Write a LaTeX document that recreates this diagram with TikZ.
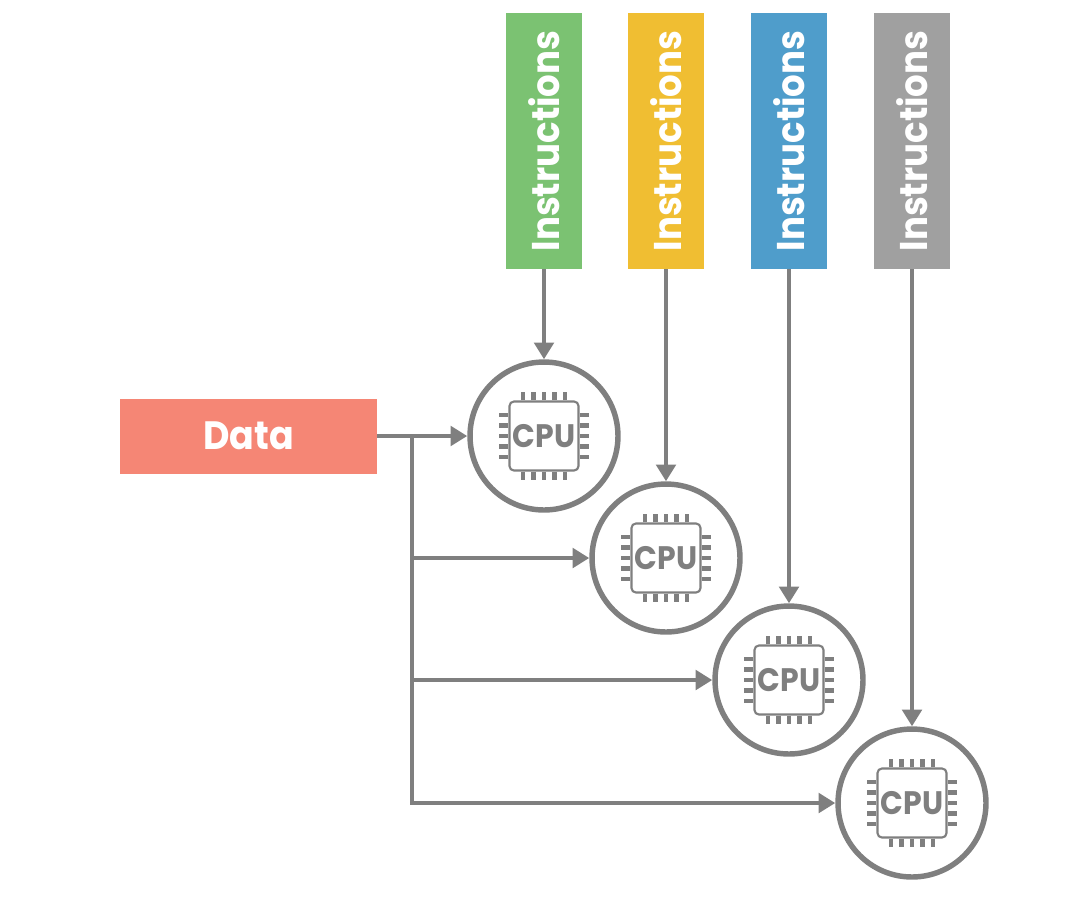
\documentclass[tikz,border=0pt]{standalone}
\usepackage{fontspec}
\setmainfont{Poppins}[FakeStretch=0.92]
\usetikzlibrary{arrows.meta,positioning,calc}

\definecolor{linegray}{HTML}{7F7F7F}
\definecolor{instrgreen}{HTML}{7BC272}
\definecolor{instryellow}{HTML}{F0BE32}
\definecolor{instrblue}{HTML}{4F9DCB}
\definecolor{instrgray}{HTML}{A0A0A0}
\definecolor{datared}{HTML}{F58675}

\tikzset{
    instrbox/.style={rotate=90, minimum width=5.12cm, minimum height=1.52cm, inner sep=0pt,
        text=white, font=\fontsize{22}{22}\selectfont\bfseries},
    databox/.style={fill=datared, minimum width=5.14cm, minimum height=1.5cm, inner sep=0pt,
        text=white, font=\fontsize{22.5}{22.5}\selectfont\bfseries},
    cpucircle/.style={draw=linegray, line width=3.1pt, fill=white, circle, minimum size=2.96cm, inner sep=0pt},
    chipbox/.style={draw=linegray, line width=1.2pt, rounded corners=2.5pt, minimum size=1.38cm, inner sep=0pt,
        text=linegray, font=\fontsize{18.5}{18.5}\selectfont\bfseries},
    pin/.style={linegray, line width=2.5pt},
    link/.style={linegray, line width=2.4pt, -{Triangle[length=9.5pt,width=11pt]}}
}

\begin{document}
\begin{tikzpicture}[x=0.02cm, y=-0.02cm]
    \useasboundingbox (0, 0) rectangle (1088, 897);

    % Data source
    \node[databox] (data) at (248.5, 436) {Data};

    % Processors with their pins
    \foreach \n/\cx/\cy in {1/544/436, 2/666/558, 3/789/680, 4/912/803} {
        \node[cpucircle] (cpu\n) at (\cx, \cy) {};
        \node[chipbox] (chip\n) at (\cx, \cy) {CPU};
        \foreach \d in {-21, -10.5, 0, 10.5, 21} {
            \draw[pin] ($(chip\n.north)+(\d, 0)$) -- ++(0, -8);
            \draw[pin] ($(chip\n.south)+(\d, 0)$) -- ++(0, 8);
            \draw[pin] ($(chip\n.west)+(0, \d)$) -- ++(-9, 0);
            \draw[pin] ($(chip\n.east)+(0, \d)$) -- ++(9, 0);
        }
    }

    % Instruction streams
    \foreach \n/\cx/\col in {1/544/instrgreen, 2/666/instryellow, 3/789/instrblue, 4/912/instrgray} {
        \node[instrbox, fill=\col] (instr\n) at (\cx, 141) {Instructions};
        \draw[link] (instr\n) -- (cpu\n);
    }

    % Data lines
    \coordinate (branch) at (412, 436);
    \draw[link] (data) -- (cpu1);
    \foreach \n in {2, 3, 4} {
        \draw[link] (branch) |- (cpu\n);
    }
\end{tikzpicture}
\end{document}
